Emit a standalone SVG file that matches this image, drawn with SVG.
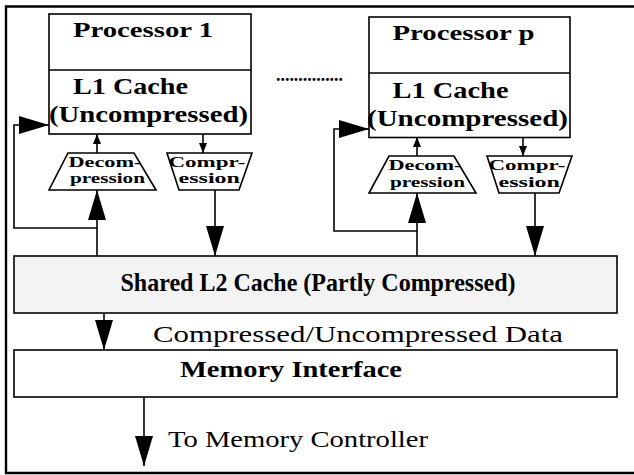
<svg xmlns="http://www.w3.org/2000/svg" width="634" height="475" viewBox="0 0 634 475">
<defs>
<style>
.box{fill:#fff;stroke:#000;stroke-width:1.6}
.l2{fill:#f3f3f3;stroke:#000;stroke-width:1.6}
.ln{fill:none;stroke:#000;stroke-width:1.6}
.b{font-family:"Liberation Serif","Times New Roman",serif;font-weight:bold;fill:#000}
.r{font-family:"Liberation Serif","Times New Roman",serif;fill:#000}
.s{font-size:14.5px}
</style>
<marker id="big" markerUnits="userSpaceOnUse" markerWidth="30" markerHeight="18" refX="30" refY="9" orient="auto"><path d="M0,0 L30,9 L0,18 z" fill="#000"/></marker>
<marker id="sm" markerUnits="userSpaceOnUse" markerWidth="10" markerHeight="8" refX="10" refY="4" orient="auto"><path d="M0,0 L10,4 L0,8 z" fill="#000"/></marker>
</defs>
<rect width="634" height="475" fill="#fff"/>
<g id="frame"><path d="M634,6.5 H6 V473 H634" fill="none" stroke="#000" stroke-width="2.4"/></g>

<g id="connectors">
<line class="ln" x1="97" y1="153" x2="97" y2="134" marker-end="url(#sm)"/>
<line class="ln" x1="203" y1="134" x2="203" y2="153" marker-end="url(#sm)"/>
<line class="ln" x1="97" y1="256" x2="97" y2="190" marker-end="url(#big)"/>
<polyline class="ln" points="97,228 14,228 14,125 49,125" marker-end="url(#big)"/>
<line class="ln" x1="215" y1="190" x2="215" y2="256" marker-end="url(#big)"/>
<line class="ln" x1="417" y1="156" x2="417" y2="137" marker-end="url(#sm)"/>
<line class="ln" x1="523" y1="137" x2="523" y2="156" marker-end="url(#sm)"/>
<line class="ln" x1="417" y1="256" x2="417" y2="193" marker-end="url(#big)"/>
<polyline class="ln" points="417,231 334,231 334,129 369,129" marker-end="url(#big)"/>
<line class="ln" x1="535" y1="193" x2="535" y2="256" marker-end="url(#big)"/>
<line class="ln" x1="104" y1="314" x2="104" y2="350" marker-end="url(#big)"/>
<line class="ln" x1="144" y1="397" x2="144" y2="466" marker-end="url(#big)"/>
</g>

<g id="processor1">
<rect class="box" x="49" y="14" width="202" height="120"/>
<line class="ln" x1="49" y1="70" x2="251" y2="70"/>
<text class="b" x="73" y="37" font-size="22" textLength="140" lengthAdjust="spacingAndGlyphs">Processor 1</text>
<text class="b" x="73" y="93.5" font-size="24" textLength="115" lengthAdjust="spacingAndGlyphs">L1 Cache</text>
<text class="b" x="49" y="122" font-size="24" textLength="199" lengthAdjust="spacingAndGlyphs">(Uncompressed)</text>
</g>
<g id="decomp1">
<polygon class="box" points="68,153 134,153 156,190 49,190"/>
<text class="b s" x="68.5" y="166.5" textLength="73" lengthAdjust="spacingAndGlyphs">Decom-</text>
<text class="b s" x="70" y="183" textLength="75" lengthAdjust="spacingAndGlyphs">pression</text>
</g>
<g id="comp1">
<polygon class="box" points="167,153 252,153 239,190 179,190"/>
<text class="b s" x="168.5" y="166.5" textLength="77" lengthAdjust="spacingAndGlyphs">Compr-</text>
<text class="b s" x="178.5" y="183" textLength="61.5" lengthAdjust="spacingAndGlyphs">ession</text>
</g>

<g id="dots"><text class="b" x="276" y="81" font-size="18" textLength="67" lengthAdjust="spacingAndGlyphs">...............</text></g>

<g id="processorp">
<rect class="box" x="369" y="17" width="201" height="120.5"/>
<line class="ln" x1="369" y1="73" x2="570" y2="73"/>
<text class="b" x="392.5" y="40" font-size="22" textLength="142" lengthAdjust="spacingAndGlyphs">Processor p</text>
<text class="b" x="392.5" y="97.5" font-size="24" textLength="116" lengthAdjust="spacingAndGlyphs">L1 Cache</text>
<text class="b" x="367" y="125.5" font-size="24" textLength="201" lengthAdjust="spacingAndGlyphs">(Uncompressed)</text>
</g>
<g id="decompp">
<polygon class="box" points="389,156 454,156 476,193 369,193"/>
<text class="b s" x="388.5" y="170" textLength="73" lengthAdjust="spacingAndGlyphs">Decom-</text>
<text class="b s" x="390" y="186.5" textLength="75" lengthAdjust="spacingAndGlyphs">pression</text>
</g>
<g id="compp">
<polygon class="box" points="487,156 572,156 559,193 499,193"/>
<text class="b s" x="488.5" y="170" textLength="77" lengthAdjust="spacingAndGlyphs">Compr-</text>
<text class="b s" x="498.5" y="186.5" textLength="61.5" lengthAdjust="spacingAndGlyphs">ession</text>
</g>

<g id="l2">
<rect class="l2" x="14" y="256" width="603" height="57"/>
<text class="b" x="120.5" y="290.5" font-size="26" textLength="395" lengthAdjust="spacingAndGlyphs">Shared L2 Cache (Partly Compressed)</text>
</g>
<g id="label-data"><text class="r" x="153" y="342" font-size="23" textLength="410" lengthAdjust="spacingAndGlyphs">Compressed/Uncompressed Data</text></g>
<g id="memif">
<rect class="box" x="14" y="350" width="603" height="47"/>
<text class="b" x="180" y="376.5" font-size="23" textLength="222" lengthAdjust="spacingAndGlyphs">Memory Interface</text>
</g>
<g id="label-mc"><text class="r" x="168" y="447" font-size="23" textLength="260" lengthAdjust="spacingAndGlyphs">To Memory Controller</text></g>
</svg>
